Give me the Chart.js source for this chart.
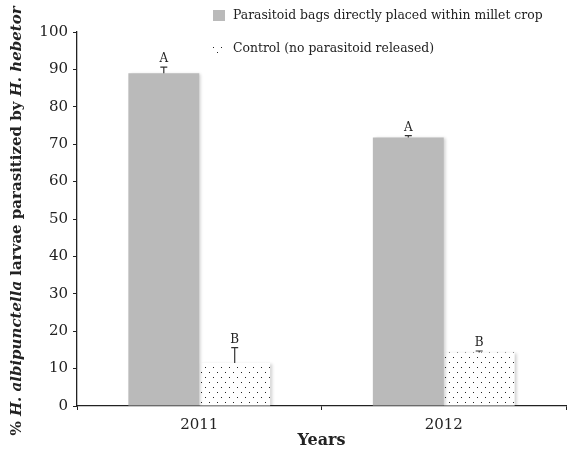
<!DOCTYPE html>
<html>
<head>
<meta charset="utf-8">
<script src="https://cdn.jsdelivr.net/npm/chart.js@4.4.1/dist/chart.umd.min.js"></script>
<style>
html,body{margin:0;padding:0;background:#fff;}
#wrap{width:567px;height:450px;}
</style>
</head>
<body>
<div id="wrap"><canvas id="c" width="567" height="450"></canvas></div>
<script>
const categories = ['2011', '2012'];
const treatedLabel = 'Parasitoid bags directly placed within millet crop';
const controlLabel = 'Control (no parasitoid released)';
const treatedValues = [89.0, 71.8];
const treatedErrors = [1.6, 0.5];
const controlValues = [11.5, 14.3];
const controlErrors = [4.1, 0.4];
const treatedLetters = ['A', 'A'];
const controlLetters = ['B', 'B'];
const yTicks = [0, 10, 20, 30, 40, 50, 60, 70, 80, 90, 100];

const SERIF = '"DejaVu Serif", serif';
const TXT = '#222';

function dotPattern() {
  const p = document.createElement('canvas');
  p.width = 8; p.height = 10;
  const g = p.getContext('2d');
  g.fillStyle = '#fff'; g.fillRect(0, 0, 8, 10);
  g.fillStyle = '#222';
  g.fillRect(1, 2, 1, 1);
  g.fillRect(5, 7, 1, 1);
  return g.createPattern(p, 'repeat');
}
const pat = dotPattern();

const shadowPlugin = {
  id: 'shadow',
  beforeDatasetsDraw(chart) {
    const ctx = chart.ctx;
    ctx.save();
    ctx.shadowColor = 'rgba(0,0,0,0.18)';
    ctx.shadowBlur = 3;
    ctx.shadowOffsetX = 2;
    ctx.shadowOffsetY = 1;
  },
  afterDatasetsDraw(chart) {
    chart.ctx.restore();
  }
};

const errorPlugin = {
  id: 'errors',
  afterDatasetsDraw(chart) {
    const ctx = chart.ctx;
    const y = chart.scales.y;
    const sets = [
      {vals: treatedValues, errs: treatedErrors, letters: treatedLetters},
      {vals: controlValues, errs: controlErrors, letters: controlLetters}
    ];
    ctx.save();
    sets.forEach((s, di) => {
      const meta = chart.getDatasetMeta(di);
      meta.data.forEach((bar, i) => {
        const x = bar.x;
        const top = y.getPixelForValue(s.vals[i]);
        const et = y.getPixelForValue(s.vals[i] + s.errs[i]);
        ctx.strokeStyle = '#333';
        ctx.lineWidth = 1.2;
        ctx.beginPath();
        ctx.moveTo(x, top);
        ctx.lineTo(x, et);
        ctx.moveTo(x - 3.5, et);
        ctx.lineTo(x + 3.5, et);
        ctx.stroke();
        ctx.fillStyle = TXT;
        ctx.font = '12px ' + SERIF;
        ctx.textAlign = 'center';
        ctx.textBaseline = 'alphabetic';
        ctx.fillText(s.letters[i], x, et - 5);
      });
    });
    ctx.restore();
  }
};

const legendPlugin = {
  id: 'customLegend',
  afterDraw(chart) {
    const ctx = chart.ctx;
    ctx.save();
    const ds = chart.data.datasets;
    const rows = [15.5, 48.5];
    ds.forEach((d, i) => {
      const cy = rows[i];
      ctx.fillStyle = d.backgroundColor;
      ctx.fillRect(213, cy - 5.5, 12, 11);
      ctx.fillStyle = TXT;
      ctx.font = '12.4px ' + SERIF;
      ctx.textAlign = 'left';
      ctx.textBaseline = 'middle';
      ctx.fillText(d.label, 233, cy);
    });
    ctx.restore();
  }
};

const yTitlePlugin = {
  id: 'yTitle',
  afterDraw(chart) {
    const ctx = chart.ctx;
    const parts = [
      ['% ', false], ['H. albipunctella', true], [' larvae parasitized by ', false], ['H. hebetor', true]
    ];
    ctx.save();
    let total = 0;
    const fontFor = it => (it ? 'italic bold ' : 'bold ') + '15px ' + SERIF;
    parts.forEach(p => { ctx.font = fontFor(p[1]); total += ctx.measureText(p[0]).width; });
    const ca = chart.chartArea;
    const cy = (ca.top + ca.bottom) / 2 + 2;
    ctx.translate(17, cy);
    ctx.rotate(-Math.PI / 2);
    let x = -total / 2;
    ctx.fillStyle = TXT;
    ctx.textBaseline = 'middle';
    ctx.textAlign = 'left';
    parts.forEach(p => {
      ctx.font = fontFor(p[1]);
      ctx.fillText(p[0], x, 0);
      x += ctx.measureText(p[0]).width;
    });
    ctx.restore();
  }
};

new Chart(document.getElementById('c'), {
  type: 'bar',
  data: {
    labels: categories,
    datasets: [
      {label: treatedLabel, data: treatedValues, backgroundColor: '#bababa', borderWidth: 0},
      {label: controlLabel, data: controlValues, backgroundColor: pat, borderWidth: 0}
    ]
  },
  options: {
    responsive: false,
    animation: false,
    devicePixelRatio: 1,
    layout: {padding: {top: 32, right: 1, left: 0, bottom: 0}},
    plugins: {legend: {display: false}, tooltip: {enabled: false}},
    datasets: {bar: {barPercentage: 1, categoryPercentage: 0.58}},
    scales: {
      x: {
        offset: true,
        grid: {display: true, offset: true, drawOnChartArea: false, drawTicks: true, tickLength: 4, color: '#222'},
        border: {display: true, color: '#222', width: 1.3},
        ticks: {color: TXT, font: {family: SERIF, size: 15}, padding: 6},
        title: {display: true, text: 'Years', color: TXT, font: {family: SERIF, size: 16, weight: 'bold'}, padding: {top: 0, bottom: 0}},
        afterFit(s) { s.height = 44; }
      },
      y: {
        min: 0, max: 100,
        afterBuildTicks(s) { s.ticks = yTicks.map(v => ({value: v})); },
        grid: {display: true, drawOnChartArea: false, drawTicks: true, tickLength: 4, color: '#222'},
        border: {display: true, color: '#222', width: 1.3},
        ticks: {color: TXT, font: {family: SERIF, size: 15}, padding: 5},
        afterFit(s) { s.width = 77; }
      }
    }
  },
  plugins: [shadowPlugin, errorPlugin, legendPlugin, yTitlePlugin]
});
</script>
</body>
</html>
